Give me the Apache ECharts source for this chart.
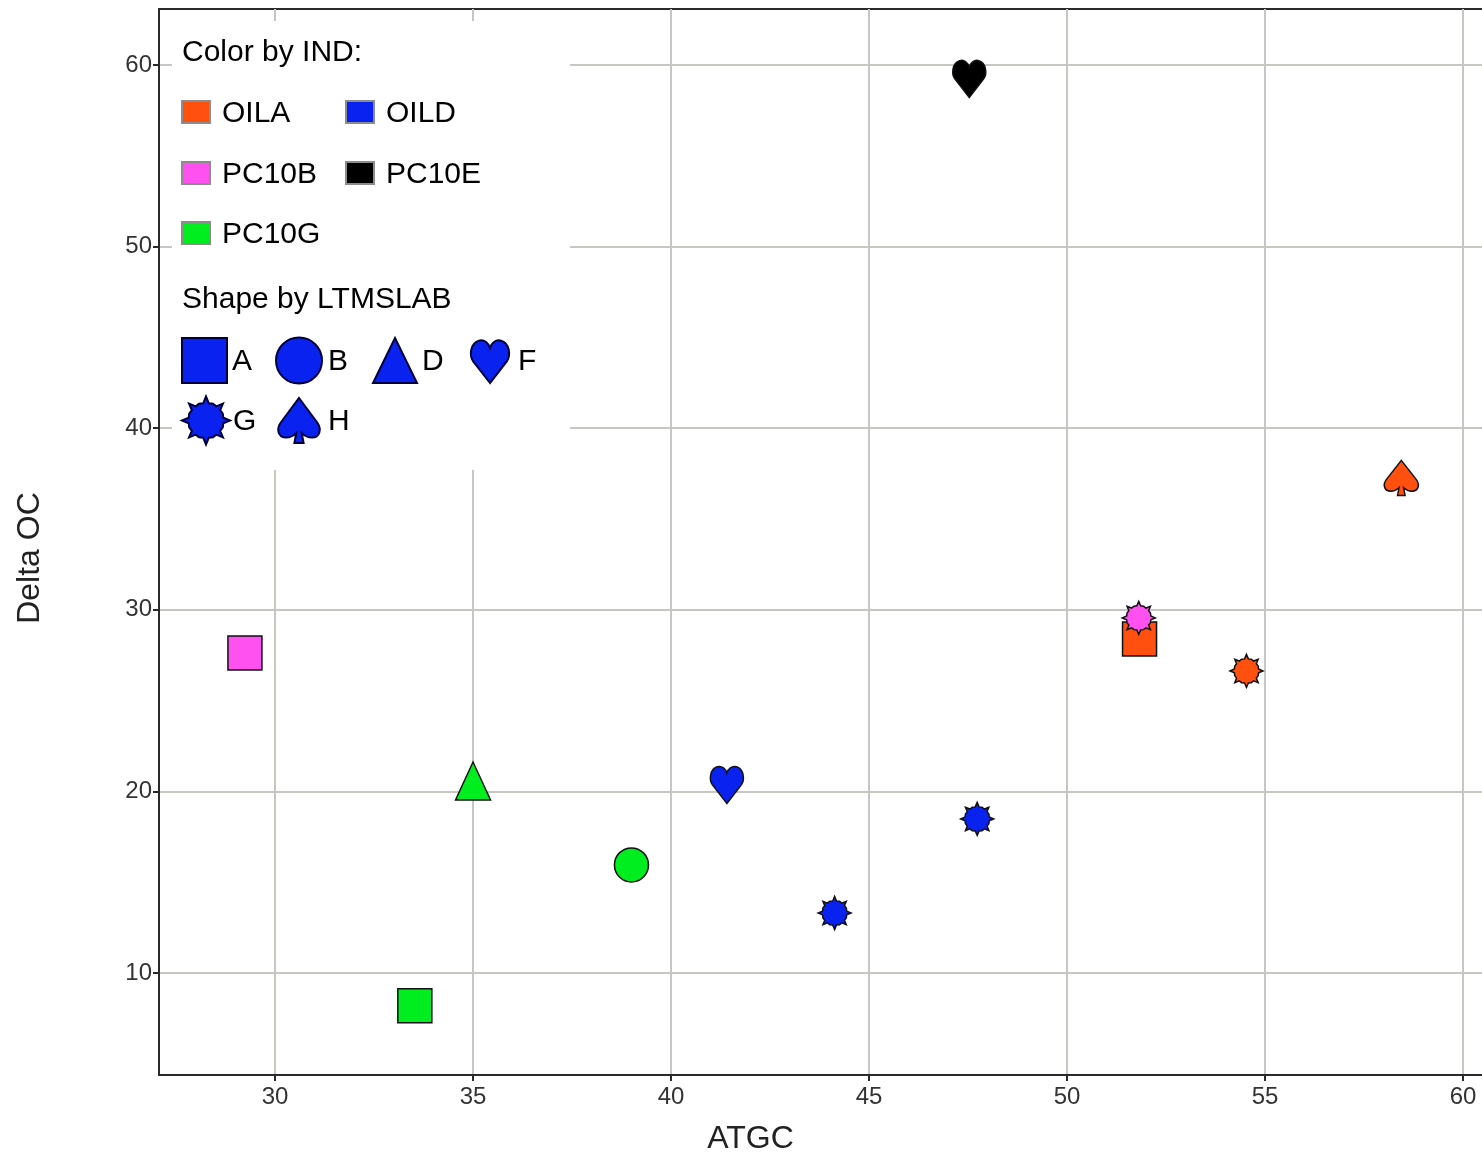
<!DOCTYPE html>
<html>
<head>
<meta charset="utf-8">
<script src="https://cdn.jsdelivr.net/npm/echarts@6/dist/echarts.min.js"></script>
<style>
  html, body { margin: 0; padding: 0; background: #ffffff; }
  #chart { width: 1482px; height: 1155px; }
</style>
</head>
<body>
<div id="chart"></div>
<script>
// ---------- data ----------
const indCategories = ['OILA', 'OILD', 'PC10B', 'PC10E', 'PC10G'];
const shapeCategories = ['A', 'B', 'D', 'F', 'G', 'H'];
const xTicks = [30, 35, 40, 45, 50, 55, 60];
const yTicks = [10, 20, 30, 40, 50, 60];

const pointInd   = ['PC10B', 'PC10G', 'PC10G', 'PC10G', 'OILD', 'OILD', 'OILD', 'PC10E', 'OILA', 'PC10B', 'OILA', 'OILA'];
const pointShape = ['A',     'A',     'D',     'B',     'F',    'G',    'G',    'F',     'A',    'G',     'G',    'H'];
const atgc       = [29.24,   33.53,   35.0,    39.0,    41.41,  44.13,  47.73,  47.53,   51.83,  51.81,   54.53,  58.44];
const deltaOC    = [27.62,   8.2,     20.57,   15.95,   20.35,  13.30,  18.48,  59.23,   28.39,  29.55,   26.63,  37.26];

// ---------- styles ----------
const indColors = { OILA: '#ff5010', OILD: '#0a22f0', PC10B: '#ff50f0', PC10E: '#000000', PC10G: '#00ee20' };

// burst: round body with 8 short spikes
function starPoints(cx, cy, ro, ri, n) {
  const pts = [];
  const step = 2 * Math.PI / n;
  const w = step * 0.2;
  for (let i = 0; i < n; i++) {
    const a = -Math.PI / 2 + i * step;
    pts.push([cx + ri * Math.cos(a - w), cy + ri * Math.sin(a - w)]);
    pts.push([cx + ro * Math.cos(a), cy + ro * Math.sin(a)]);
    pts.push([cx + ri * Math.cos(a + w), cy + ri * Math.sin(a + w)]);
    const m = a + step / 2;
    pts.push([cx + ri * 1.04 * Math.cos(m), cy + ri * 1.04 * Math.sin(m)]);
  }
  return pts;
}
const starPts = starPoints(50, 50, 50, 37, 8);
const starPath = 'M' + starPts.map(p => p[0].toFixed(2) + ',' + p[1].toFixed(2)).join(' L') + ' Z';
const heartPath = 'M50,100 L8,52 C-2,40 0,12 22,6 C36,2 47,12 50,22 C53,12 64,2 78,6 C100,12 102,40 92,52 Z';
const spadePath = 'M50,0 L90,55 C100,70 95,88 78,88 C68,88 60,82 56,78 L60,100 L40,100 L44,78 C40,82 32,88 22,88 C5,88 0,70 10,55 Z';

// custom shapes for legend graphics (same outlines as the symbols)
echarts.graphic.registerShape('heartShape', echarts.graphic.extendShape({
  shape: { x: 0, y: 0, width: 100, height: 100 },
  buildPath: function (ctx, s) {
    const X = v => s.x + v / 100 * s.width, Y = v => s.y + v / 100 * s.height;
    ctx.moveTo(X(50), Y(100));
    ctx.lineTo(X(8), Y(52));
    ctx.bezierCurveTo(X(-2), Y(40), X(0), Y(12), X(22), Y(6));
    ctx.bezierCurveTo(X(36), Y(2), X(47), Y(12), X(50), Y(22));
    ctx.bezierCurveTo(X(53), Y(12), X(64), Y(2), X(78), Y(6));
    ctx.bezierCurveTo(X(100), Y(12), X(102), Y(40), X(92), Y(52));
    ctx.closePath();
  }
}));
echarts.graphic.registerShape('spadeShape', echarts.graphic.extendShape({
  shape: { x: 0, y: 0, width: 100, height: 100 },
  buildPath: function (ctx, s) {
    const X = v => s.x + v / 100 * s.width, Y = v => s.y + v / 100 * s.height;
    ctx.moveTo(X(50), Y(0));
    ctx.lineTo(X(90), Y(55));
    ctx.bezierCurveTo(X(100), Y(70), X(95), Y(88), X(78), Y(88));
    ctx.bezierCurveTo(X(68), Y(88), X(60), Y(82), X(56), Y(78));
    ctx.lineTo(X(60), Y(100));
    ctx.lineTo(X(40), Y(100));
    ctx.lineTo(X(44), Y(78));
    ctx.bezierCurveTo(X(40), Y(82), X(32), Y(88), X(22), Y(88));
    ctx.bezierCurveTo(X(5), Y(88), X(0), Y(70), X(10), Y(55));
    ctx.closePath();
  }
}));

const shapeSymbol = {
  A: 'rect', B: 'circle', D: 'triangle',
  F: 'path://' + heartPath, G: 'path://' + starPath, H: 'path://' + spadePath
};
const shapeSize = { A: [34, 34], B: [34, 34], D: [35, 38], F: [33, 37], G: [33, 33], H: [34, 35] };

const series = indCategories.map(ind => {
  const data = [];
  for (let i = 0; i < atgc.length; i++) {
    if (pointInd[i] !== ind) continue;
    data.push({
      value: [atgc[i], deltaOC[i]],
      symbol: shapeSymbol[pointShape[i]],
      symbolSize: shapeSize[pointShape[i]],
      symbolKeepAspect: false
    });
  }
  return {
    name: ind,
    type: 'scatter',
    data: data,
    z: 5,
    itemStyle: { color: indColors[ind], borderColor: '#111', borderWidth: 1.5, opacity: 1 },
    emphasis: { disabled: true }
  };
});

// ---------- legend (drawn with graphic) ----------
const legendFont = '30px "Liberation Sans", Arial, sans-serif';
const legendBlue = indColors.OILD;
const shapeStroke = '#00003a';
const g = [];
g.push({ type: 'rect', shape: { x: 172, y: 21, width: 398, height: 449 }, style: { fill: '#ffffff' }, z: 1, silent: true });
g.push({ type: 'text', x: 182, y: 53, style: { text: 'Color by IND:', font: legendFont, fill: '#000', verticalAlign: 'middle' }, z: 3 });
const swatchPos = [[181, 112], [345, 112], [181, 173], [345, 173], [181, 233]];
indCategories.forEach((ind, i) => {
  const [sx, sy] = swatchPos[i];
  g.push({ type: 'rect', shape: { x: sx + 1, y: sy - 11, width: 28, height: 22 },
           style: { fill: indColors[ind], stroke: '#8c8c8c', lineWidth: 2 }, z: 3 });
  g.push({ type: 'text', x: sx + 41, y: sy + 2, style: { text: ind, font: legendFont, fill: '#000', verticalAlign: 'middle' }, z: 3 });
});
g.push({ type: 'text', x: 182, y: 300, style: { text: 'Shape by LTMSLAB', font: legendFont, fill: '#000', verticalAlign: 'middle' }, z: 3 });
const shapeStyle = { fill: legendBlue, stroke: shapeStroke, lineWidth: 2 };
// A square
g.push({ type: 'rect', shape: { x: 182, y: 338, width: 45, height: 45 }, style: shapeStyle, z: 3 });
// B circle
g.push({ type: 'circle', shape: { cx: 299, cy: 360.5, r: 23 }, style: shapeStyle, z: 3 });
// D triangle
g.push({ type: 'polygon', shape: { points: [[395, 338], [417, 383], [373, 383]] }, style: shapeStyle, z: 3 });
// F heart
g.push({ type: 'heartShape', shape: { x: 470, y: 338, width: 40, height: 45 }, style: shapeStyle, z: 3 });
// G star
g.push({ type: 'polygon', shape: { points: starPoints(206, 420.5, 24, 17.5, 8) }, style: shapeStyle, z: 3 });
// H spade
g.push({ type: 'spadeShape', shape: { x: 276, y: 398, width: 46, height: 45 }, style: shapeStyle, z: 3 });
const shapeLabelPos = [[232, 362], [328, 362], [422, 362], [518, 362], [233, 422], [328, 422]];
shapeCategories.forEach((s, i) => {
  g.push({ type: 'text', x: shapeLabelPos[i][0], y: shapeLabelPos[i][1],
           style: { text: s, font: legendFont, fill: '#000', verticalAlign: 'middle' }, z: 3 });
});

// ---------- chart ----------
const tickFont = '"Liberation Sans Narrow", "Liberation Sans", Arial, sans-serif';
const chart = echarts.init(document.getElementById('chart'), null, { renderer: 'canvas' });
chart.setOption({
  animation: false,
  backgroundColor: '#ffffff',
  grid: { left: 159, top: 9, width: 1333, height: 1066, outerBoundsMode: 'none', containLabel: false,
          show: true, borderColor: '#2a2a2a', borderWidth: 2, backgroundColor: 'transparent' },
  xAxis: {
    type: 'value', min: 27.07, max: 60.73,
    name: 'ATGC', nameLocation: 'middle', nameGap: 48,
    nameTextStyle: { fontFamily: '"Liberation Sans", Arial, sans-serif', fontSize: 32, color: '#222', padding: [0, 150, 0, 0] },
    axisLine: { show: true, lineStyle: { color: '#2a2a2a', width: 2 } },
    axisTick: { show: true, length: 6, customValues: xTicks, lineStyle: { color: '#2a2a2a', width: 2 } },
    axisLabel: { customValues: xTicks, margin: 10, fontFamily: tickFont, fontSize: 24, color: '#333' },
    splitLine: { show: true, lineStyle: { color: '#c8c6c0', width: 2 } }
  },
  yAxis: {
    type: 'value', min: 4.38, max: 63.08,
    name: 'Delta OC', nameLocation: 'middle', nameGap: 113,
    nameTextStyle: { fontFamily: '"Liberation Sans", Arial, sans-serif', fontSize: 32, color: '#222', padding: [0, 32, 0, 0] },
    axisLine: { show: true, lineStyle: { color: '#2a2a2a', width: 2 } },
    axisTick: { show: true, length: 6, customValues: yTicks, lineStyle: { color: '#2a2a2a', width: 2 } },
    axisLabel: { customValues: yTicks, margin: 7, fontFamily: tickFont, fontSize: 24, color: '#333' },
    splitLine: { show: true, lineStyle: { color: '#c8c6c0', width: 2 } }
  },
  series: series,
  graphic: { elements: g }
});
</script>
</body>
</html>
